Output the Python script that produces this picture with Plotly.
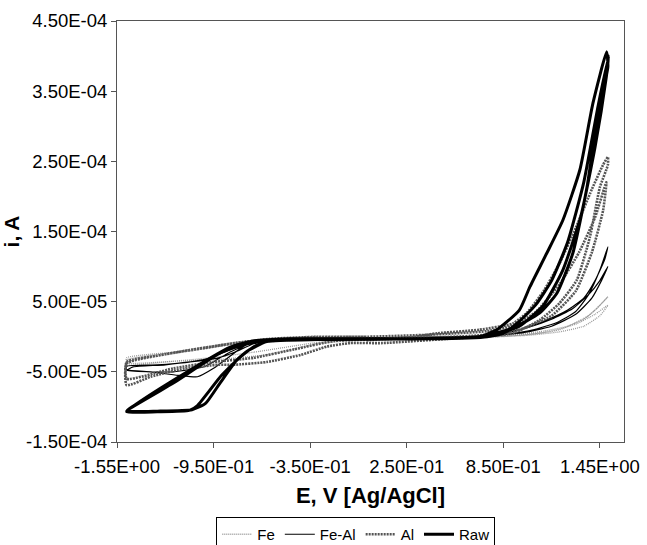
import numpy as np
import plotly.graph_objects as go

# ---- data (E in V, current in units of 1e-4 A) ----
fe_E = [0.00, 0.60, 0.90, 1.10, 1.25, 1.35, 1.43, 1.50, 1.45, 1.38, 1.20, 1.00, 0.60, 0.00, -0.50, -0.82, -1.20, -1.49, -1.49, -1.20, -0.90, -0.60, -0.30, 0.00,
        0.70, 1.00, 1.20, 1.35, 1.45, 1.50, 1.42, 1.30, 1.10, 0.80, 0.30, -0.40, -0.80, -1.10, -1.49, -1.49, -1.10, -0.70, -0.30, 0.00]
fe_i = [-0.03, 0.00, 0.03, 0.08, 0.15, 0.25, 0.40, 0.57, 0.45, 0.30, 0.10, 0.03, -0.02, -0.03, -0.05, -0.08, -0.22, -0.33, -0.40, -0.35, -0.32, -0.25, -0.10, -0.04,
        -0.01, 0.02, 0.07, 0.15, 0.30, 0.45, 0.32, 0.18, 0.06, 0.00, -0.03, -0.05, -0.10, -0.20, -0.30, -0.37, -0.33, -0.22, -0.08, -0.03]

feal_E = [0.00, 0.60, 0.80, 0.95, 1.10, 1.25, 1.35, 1.42, 1.48, 1.50, 1.45, 1.38, 1.30, 1.18, 1.00, 0.80, 0.40, -0.30, -0.60, -0.75, -0.85, -0.95, -1.05, -1.17, -1.34, -1.49,
          -1.49, -1.30, -1.10, -0.92, -0.82, -0.70, -0.55, 0.00, 0.60, 0.85, 1.00, 1.15, 1.28, 1.38, 1.45, 1.50, 1.46, 1.40, 1.30, 1.15, 0.95, 0.70, 0.20, -0.50, -0.70,
          -0.85, -1.00, -1.20, -1.49, -1.45, -1.25, -1.00, -0.80, -0.60, 0.00]
feal_i = [-0.02, 0.00, 0.03, 0.10, 0.22, 0.38, 0.55, 0.80, 1.10, 1.28, 0.95, 0.60, 0.36, 0.20, 0.08, 0.02, -0.01, -0.02, -0.05, -0.12, -0.28, -0.45, -0.57, -0.55, -0.50, -0.47,
          -0.42, -0.40, -0.36, -0.30, -0.22, -0.10, -0.03, -0.02, 0.00, 0.05, 0.13, 0.25, 0.40, 0.60, 0.80, 1.00, 0.80, 0.55, 0.32, 0.15, 0.05, 0.01, -0.01, -0.03, -0.08,
          -0.22, -0.42, -0.50, -0.48, -0.43, -0.40, -0.32, -0.15, -0.04, -0.02]

al_E = [0.00, 0.30, 0.44, 0.70, 0.91, 1.00, 1.10, 1.20, 1.30, 1.40, 1.47, 1.50, 1.50, 1.45, 1.388, 1.307, 1.20, 1.077, 0.91, 0.70, 0.50, 0.10, -0.10, -0.245, -0.41,
        -0.62, -0.83, -0.92, -1.13, -1.34, -1.49, -1.49, -1.30, -1.10, -0.817, -0.60, -0.30, 0.00, 0.40, 0.75, 0.90, 1.05, 1.20, 1.32, 1.42, 1.49, 1.47, 1.40, 1.30,
        1.15, 0.95, 0.70, 0.20, -0.20, -0.45, -0.70, -0.95, -1.20, -1.49, -1.49, -1.25, -1.00, -0.75, -0.40, 0.00]
al_i = [-0.05, 0.00, 0.05, 0.10, 0.19, 0.35, 0.65, 1.05, 1.55, 2.10, 2.45, 2.56, 2.45, 2.13, 1.42, 0.81, 0.48, 0.24, 0.05, 0.00, -0.03, -0.09, -0.09, -0.14, -0.26,
        -0.36, -0.40, -0.40, -0.45, -0.57, -0.69, -0.36, -0.27, -0.19, -0.09, -0.03, 0.00, 0.00, 0.03, 0.08, 0.15, 0.35, 0.75, 1.20, 1.70, 2.20, 1.80, 1.20, 0.65,
        0.30, 0.10, 0.02, -0.03, -0.06, -0.18, -0.30, -0.36, -0.45, -0.60, -0.38, -0.25, -0.16, -0.07, -0.01, 0.00]

raw_E = [0.00, 0.40, 0.70, 0.81, 0.95, 1.015, 1.12, 1.22, 1.326, 1.407, 1.492, 1.50, 1.433, 1.37, 1.282, 1.183, 1.077, 0.91, 0.705, 0.30, -0.20, -0.60, -0.705,
         -0.805, -0.91, -1.00, -1.084, -1.30, -1.49, -1.45, -1.20, -0.85, -0.705, -0.475, 0.00, 0.40, 0.75, 0.85, 0.95, 1.05, 1.15, 1.25, 1.35, 1.44, 1.505, 1.49,
         1.42, 1.33, 1.22, 1.10, 0.95, 0.75, 0.30, -0.30, -0.62, -0.75, -0.90, -1.05, -1.10, -1.30, -1.49, -1.20, -0.90, -0.70, -0.40, 0.00]
raw_i = [-0.03, -0.03, 0.00, 0.10, 0.38, 0.71, 1.19, 1.66, 2.38, 3.33, 4.06, 3.85, 3.09, 2.13, 1.19, 0.62, 0.34, 0.125, 0.00, -0.03, -0.04, -0.05, -0.15,
         -0.33, -0.66, -0.95, -1.04, -1.06, -1.06, -0.99, -0.62, -0.15, -0.06, -0.03, -0.03, -0.03, 0.00, 0.05, 0.22, 0.45, 0.80, 1.35, 2.20, 3.30, 4.00, 3.70,
         2.70, 1.70, 0.95, 0.45, 0.15, 0.00, -0.03, -0.04, -0.07, -0.22, -0.55, -0.98, -1.05, -1.07, -1.07, -0.66, -0.22, -0.07, -0.03, -0.03]

x_tickvals = [-1.55, -0.95, -0.35, 0.25, 0.85, 1.45]
x_ticktext = ["-1.55E+00", "-9.50E-01", "-3.50E-01", "2.50E-01", "8.50E-01", "1.45E+00"]
y_tickvals = [-1.5e-4, -5e-5, 5e-5, 1.5e-4, 2.5e-4, 3.5e-4, 4.5e-4]
y_ticktext = ["-1.50E-04", "-5.00E-05", "5.00E-05", "1.50E-04", "2.50E-04", "3.50E-04", "4.50E-04"]

SCALE = 1e-4
FONT = "Liberation Sans, Arial, sans-serif"

fig = go.Figure()
series = [
    ("Fe", fe_E, fe_i, dict(color="#9a9a9a", width=1.3, dash="1px,1px")),
    ("Fe-Al", feal_E, feal_i, dict(color="black", width=1.2)),
    ("Al", al_E, al_i, dict(color="#555555", width=2.6, dash="2px,1px")),
    ("Raw", raw_E, raw_i, dict(color="black", width=3)),
]
for name, E, i, line in series:
    fig.add_trace(go.Scatter(
        x=E, y=np.array(i) * SCALE, mode="lines", name=name,
        line=dict(shape="spline", smoothing=0.5, **line),
    ))

axis_common = dict(
    showgrid=False, zeroline=False, showline=True, linecolor="#555555", linewidth=1,
    mirror=True, ticks="outside", ticklen=5, tickwidth=1, tickcolor="#555555",
    tickfont=dict(family=FONT, size=18.5, color="black"), automargin=False,
)
fig.update_xaxes(range=[-1.55, 1.6], tickvals=x_tickvals, ticktext=x_ticktext, ticklabelstandoff=3,
                 title=dict(text="<b>E, V [Ag/AgCl]</b>", font=dict(family=FONT, size=22, color="black"), standoff=11),
                 **axis_common)
fig.update_yaxes(range=[-1.5e-4, 4.5e-4], tickvals=y_tickvals, ticktext=y_ticktext,
                 title=dict(text="<b>i, A</b>", font=dict(family=FONT, size=21, color="black"), standoff=6),
                 **axis_common)

fig.update_layout(
    width=647, height=545,
    margin=dict(l=117, r=23, t=21, b=103),
    paper_bgcolor="white", plot_bgcolor="white",
    font=dict(family=FONT, color="black"),
    showlegend=True,
    legend=dict(orientation="h", x=0.471, xanchor="center", xref="paper",
                y=1 - 517 / 545, yanchor="top", yref="container",
                bordercolor="black", borderwidth=1, bgcolor="white",
                font=dict(family=FONT, size=15, color="black"),
                itemwidth=30, tracegroupgap=0),
)

fig.write_html("out.html")
